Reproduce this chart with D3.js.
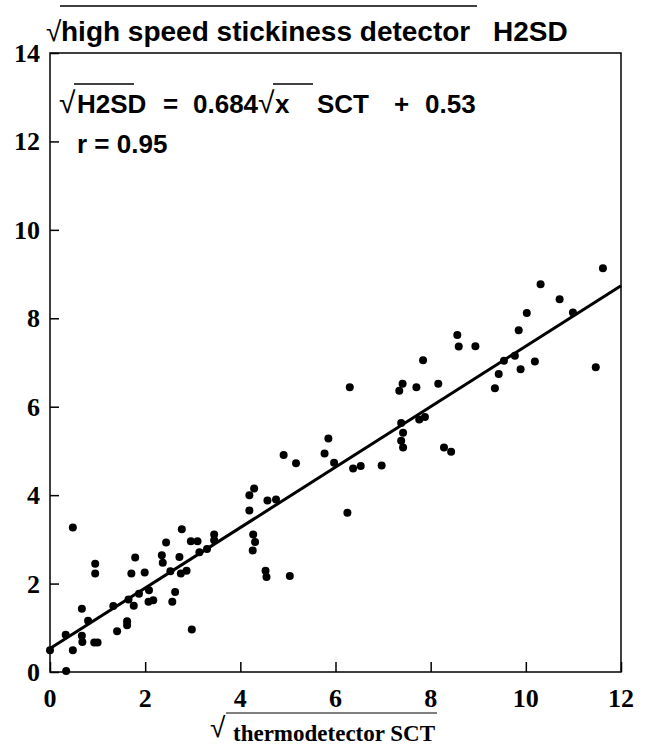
<!DOCTYPE html>
<html>
<head>
<meta charset="utf-8">
<script src="https://cdn.jsdelivr.net/npm/d3@7"></script>
<style>
  html, body { margin: 0; padding: 0; background: #fff; }
  svg { display: block; }
</style>
</head>
<body>
<div id="chart"></div>
<script>
// ---- data ----
const sctValues = [0, 0.34, 0.33, 0.48, 0.48, 0.67, 0.67, 0.68, 0.80, 0.93, 1.00, 0.95, 0.95, 1.33, 1.41,
  1.62, 1.62, 1.65, 1.76, 1.71, 1.79, 1.87, 1.99, 2.07, 2.08, 2.17, 2.35, 2.37, 2.44, 2.53, 2.57, 2.63,
  2.72, 2.77, 2.75, 2.87, 2.98, 2.96, 3.10, 3.14, 3.30, 3.45, 3.45, 4.19, 4.29, 4.19, 4.27, 4.31, 4.26,
  4.53, 4.55, 4.57, 4.75, 4.91, 5.04, 5.17, 5.77, 5.85, 5.97, 6.25, 6.30, 6.37, 6.53, 6.97, 7.34, 7.41,
  7.70, 7.84, 8.16, 8.56, 8.59, 8.94, 7.38, 7.42, 7.38, 7.42, 7.76, 7.88, 8.28, 8.43, 9.35, 9.43, 9.54,
  9.77, 9.89, 9.85, 10.02, 10.19, 10.31, 10.71, 10.99, 11.47, 11.62];
const h2sdValues = [0.49, 0.02, 0.84, 0.49, 3.27, 1.43, 0.82, 0.68, 1.16, 0.67, 0.67, 2.45, 2.23, 1.49, 0.92,
  1.15, 1.06, 1.64, 1.50, 2.23, 2.59, 1.77, 2.25, 1.59, 1.85, 1.62, 2.64, 2.47, 2.93, 2.28, 1.59, 1.81,
  2.60, 3.23, 2.23, 2.29, 0.96, 2.96, 2.96, 2.71, 2.78, 3.11, 2.98, 4.00, 4.15, 3.65, 3.11, 2.94, 2.75,
  2.29, 2.15, 3.88, 3.90, 4.91, 2.17, 4.72, 4.94, 5.28, 4.73, 3.60, 6.44, 4.60, 4.66, 4.67, 6.36, 6.52,
  6.44, 7.05, 6.52, 7.62, 7.36, 7.37, 5.63, 5.41, 5.23, 5.08, 5.71, 5.77, 5.08, 4.98, 6.42, 6.74, 7.04,
  7.15, 6.85, 7.73, 8.12, 7.02, 8.77, 8.43, 8.13, 6.89, 9.13];
const fitSlope = 0.684;
const fitIntercept = 0.53;
const fitR = 0.95;
const xTicks = [0, 2, 4, 6, 8, 10, 12];
const yTicks = [0, 2, 4, 6, 8, 10, 12, 14];
const xDomain = [0, 12];
const yDomain = [0, 14];

// ---- layout ----
const W = 651, H = 749;
const L = 50, R = 621, T = 53, B = 672;

const svg = d3.select("#chart").append("svg")
  .attr("width", W).attr("height", H);

const x = d3.scaleLinear().domain(xDomain).range([L, R]);
const y = d3.scaleLinear().domain(yDomain).range([B, T]);

const serif = "Liberation Serif, Times New Roman, serif";
const sans = "Liberation Sans, Arial, sans-serif";

function txt(xp, yp, s, size, bold, family, anchor) {
  return svg.append("text").attr("x", xp).attr("y", yp)
    .attr("font-family", family || sans).attr("font-size", size)
    .attr("font-weight", bold ? "bold" : "normal").attr("fill", "#000")
    .attr("text-anchor", anchor || "start")
    .attr("xml:space", "preserve").text(s);
}
function bar(x1, x2, yy, w) {
  svg.append("line").attr("x1", x1).attr("x2", x2).attr("y1", yy).attr("y2", yy)
    .attr("stroke", "#000").attr("stroke-width", w || 1.5);
}

// frame
svg.append("rect")
  .attr("x", L).attr("y", T).attr("width", R - L).attr("height", B - T)
  .attr("fill", "none").attr("stroke", "#000").attr("stroke-width", 1.5);

// axes (tick marks through d3 axes, inward)
const yAxis = svg.append("g").attr("transform", `translate(${L},0)`)
  .call(d3.axisLeft(y).tickValues(yTicks).tickSizeInner(-9).tickSizeOuter(0).tickFormat(""));
const xAxis = svg.append("g").attr("transform", `translate(0,${B})`)
  .call(d3.axisBottom(x).tickValues(xTicks).tickSizeInner(-10).tickSizeOuter(0).tickFormat(""));
[yAxis, xAxis].forEach(g => {
  g.select(".domain").remove();
  g.selectAll(".tick line").attr("stroke", "#000").attr("stroke-width", 1.5);
  g.selectAll(".tick text").remove();
});

// tick labels positioned with the scales
yTicks.forEach(t => txt(L - 10, y(t) + 9, String(t), 26, true, serif, "end"));
xTicks.forEach(t => txt(x(t), B + 35, String(t), 26, true, serif, "middle"));

// points
svg.append("g").selectAll("circle")
  .data(sctValues.map((v, i) => [v, h2sdValues[i]]))
  .join("circle")
  .attr("cx", d => x(d[0])).attr("cy", d => y(d[1]))
  .attr("r", 4).attr("fill", "#000");

// regression line
const fitLine = d3.line().x(d => x(d)).y(d => y(fitIntercept + fitSlope * d));
svg.append("path").datum(xDomain)
  .attr("d", fitLine).attr("fill", "none").attr("stroke", "#000").attr("stroke-width", 3);

// title (y axis label)
txt(46, 41, "√", 28, false);
txt(61, 41, "high speed stickiness detector", 28, true);
bar(60, 477, 6);
txt(493, 41, "H2SD", 28, true);

// equation
const eqY = 113;
txt(59, eqY, "√", 30, false);
bar(74, 134, 84);
txt(77, eqY, "H2SD", 26, true);
txt(163, eqY, "=", 26, true);
txt(193, eqY, fitSlope.toFixed(3), 26, true);
txt(258, eqY, "√", 30, false);
bar(273, 313, 84);
txt(275, eqY, "x", 26, true);
txt(317, eqY, "SCT", 26, true);
txt(394, eqY, "+", 26, true);
txt(425, eqY, fitIntercept.toFixed(2), 26, true);
txt(77, 153, "r = " + fitR.toFixed(2), 26, true);

// x axis title
txt(210, 737, "√", 28, false);
bar(226, 437, 713, 1.2);
txt(233, 741, "thermodetector SCT", 23, true, serif);
</script>
</body>
</html>
